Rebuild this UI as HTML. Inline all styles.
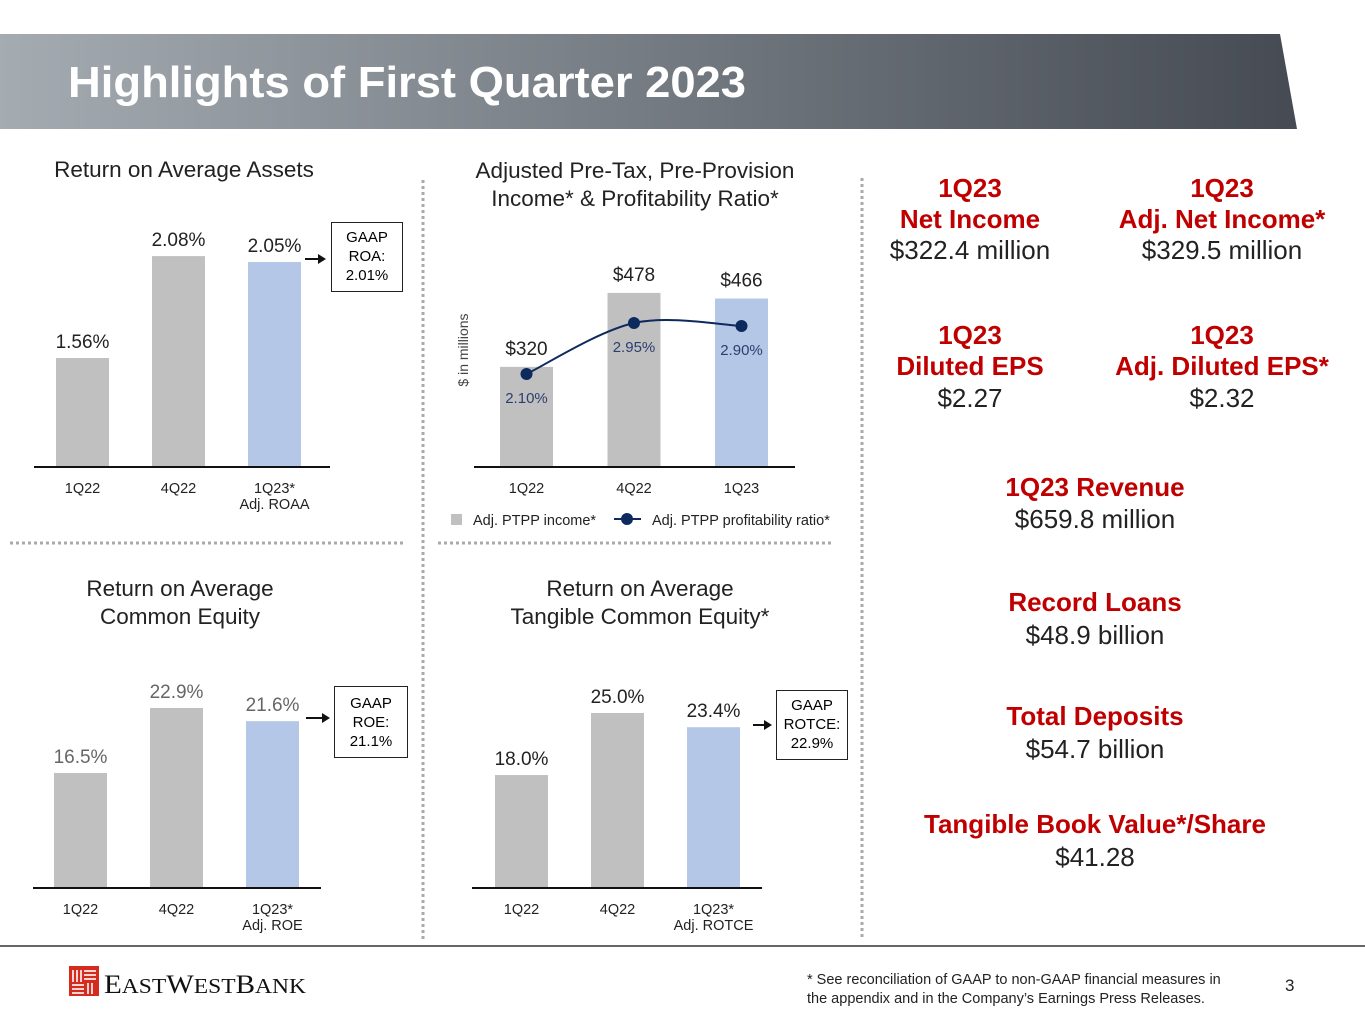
<!DOCTYPE html>
<html><head><meta charset="utf-8">
<style>
body{margin:0;width:1365px;height:1024px;position:relative;background:#fff;font-family:"Liberation Sans",Arial,sans-serif;overflow:hidden}
.abs{position:absolute}
.t{position:absolute;text-align:center;color:#222}
.red{color:#c00000;font-weight:bold}
.st{font-size:22.5px;line-height:28px}
.r{font-size:26px;line-height:31px}
.gb{position:absolute;border:1.5px solid #222;font-size:15px;text-align:center;line-height:19px;box-sizing:border-box;padding-top:5px}
</style></head><body>
<svg class="abs" style="left:0;top:0" width="1365" height="1024">
<defs><linearGradient id="hg" x1="0" x2="1"><stop offset="0" stop-color="#a4abb1"/><stop offset="1" stop-color="#464b53"/></linearGradient></defs>
<polygon points="0,34 1280,34 1297,129 0,129" fill="url(#hg)"/>
<text x="68" y="97" font-size="44" font-weight="bold" fill="#fff" font-family="Liberation Sans" textLength="678" lengthAdjust="spacingAndGlyphs">Highlights of First Quarter 2023</text>
<g stroke="#aaa" stroke-width="3" stroke-dasharray="3,3">
<line x1="423" y1="180" x2="423" y2="940"/><line x1="862" y1="178" x2="862" y2="940"/>
<line x1="10" y1="543" x2="405" y2="543"/><line x1="438" y1="543" x2="832" y2="543"/>
</g>
<line x1="0" y1="946" x2="1365" y2="946" stroke="#666" stroke-width="2"/>
<g id="charts"></g>
<g>
<rect x="69" y="966" width="30" height="30" fill="#d52b1e"/>
<g stroke="#fff" stroke-width="1.6"><line x1="73" y1="970" x2="73" y2="982"/><line x1="77" y1="970" x2="77" y2="982"/><line x1="81" y1="970" x2="81" y2="982"/><line x1="84" y1="971" x2="96" y2="971"/><line x1="84" y1="975" x2="96" y2="975"/><line x1="84" y1="979" x2="96" y2="979"/><line x1="72" y1="985" x2="84" y2="985"/><line x1="72" y1="989" x2="84" y2="989"/><line x1="72" y1="993" x2="84" y2="993"/><line x1="88" y1="983" x2="88" y2="994"/><line x1="92" y1="983" x2="92" y2="994"/></g>
<text x="104" y="993" font-family="Liberation Serif" font-size="26" fill="#111" textLength="202" lengthAdjust="spacingAndGlyphs">E<tspan font-size="21">AST</tspan>W<tspan font-size="21">EST</tspan>B<tspan font-size="21">ANK</tspan></text>
</g>
</svg>

<div class="t st" style="left:34px;top:156px;width:300px">Return on Average Assets</div>
<div class="t st" style="left:430px;top:157px;width:410px">Adjusted Pre-Tax, Pre-Provision<br>Income* &amp; Profitability Ratio*</div>
<div class="t st" style="left:20px;top:575px;width:320px">Return on Average<br>Common Equity</div>
<div class="t st" style="left:460px;top:575px;width:360px">Return on Average<br>Tangible Common Equity*</div>
<div class="t" style="top:340px;height:20px;font-size:14px;color:#444;transform:rotate(-90deg);white-space:nowrap;left:410px;width:110px">$ in millions</div>

<div class="gb" style="left:331px;top:222px;width:72px;height:70px">GAAP<br>ROA:<br>2.01%</div>
<div class="gb" style="left:334px;top:686px;width:74px;height:72px;padding-top:7px">GAAP<br>ROE:<br>21.1%</div>
<div class="gb" style="left:776px;top:690px;width:72px;height:70px">GAAP<br>ROTCE:<br>22.9%</div>

<div class="t red r" style="left:850px;top:173px;width:240px">1Q23<br>Net Income</div>
<div class="t r" style="left:850px;top:235px;width:240px">$322.4 million</div>
<div class="t red r" style="left:1090px;top:173px;width:264px">1Q23<br>Adj. Net Income*</div>
<div class="t r" style="left:1090px;top:235px;width:264px">$329.5 million</div>
<div class="t red r" style="left:850px;top:320px;width:240px">1Q23<br>Diluted EPS</div>
<div class="t r" style="left:850px;top:383px;width:240px">$2.27</div>
<div class="t red r" style="left:1090px;top:320px;width:264px">1Q23<br>Adj. Diluted EPS*</div>
<div class="t r" style="left:1090px;top:383px;width:264px">$2.32</div>
<div class="t red r" style="left:895px;top:472px;width:400px">1Q23 Revenue</div>
<div class="t r" style="left:895px;top:504px;width:400px">$659.8 million</div>
<div class="t red r" style="left:895px;top:587px;width:400px">Record Loans</div>
<div class="t r" style="left:895px;top:620px;width:400px">$48.9 billion</div>
<div class="t red r" style="left:895px;top:701px;width:400px">Total Deposits</div>
<div class="t r" style="left:895px;top:734px;width:400px">$54.7 billion</div>
<div class="t red r" style="left:880px;top:809px;width:430px">Tangible Book Value*/Share</div>
<div class="t r" style="left:880px;top:842px;width:430px">$41.28</div>

<div class="abs" style="left:807px;top:971px;font-size:14.5px;line-height:19px;color:#222">* See reconciliation of GAAP to non-GAAP financial measures in<br>the appendix and in the Company’s Earnings Press Releases.</div>
<div class="abs" style="left:1285px;top:976px;font-size:17px;color:#222">3</div>

<script>
const categories=["1Q22","4Q22","1Q23"];
const roaValues=[1.56,2.08,2.05];
const roaLabels=["1.56%","2.08%","2.05%"];
const roeValues=[16.5,22.9,21.6];
const roeLabels=["16.5%","22.9%","21.6%"];
const rotceValues=[18.0,25.0,23.4];
const rotceLabels=["18.0%","25.0%","23.4%"];
const ptppValues=[320,478,466];
const ptppLabels=["$320","$478","$466"];
const ratioValues=[2.10,2.95,2.90];
const ratioLabels=["2.10%","2.95%","2.90%"];

const NS="http://www.w3.org/2000/svg";
const root=document.getElementById('charts');
function mk(tag,attrs,parent){const e=document.createElementNS(NS,tag);for(const k in attrs)e.setAttribute(k,attrs[k]);(parent||root).appendChild(e);return e;}
function txt(x,y,s,size,fill,parent){const e=mk('text',{x:x,y:y,'font-size':size,fill:fill,'text-anchor':'middle','font-family':'Liberation Sans'},parent);e.textContent=s;return e;}
const colors=["#c0c0c0","#c0c0c0","#b4c7e7"];

function barChart(name,vals,labs,cfg){
  const g=mk('g',{});
  
  
  const yScale=v=>cfg.base-cfg.a*(v-cfg.min);
  vals.forEach((v,i)=>{
    const x=cfg.x0+i*cfg.step;
    const r=mk('rect',{x:x,y:yScale(v),width:53,height:cfg.base-yScale(v),fill:colors[i]},g);
    
    
    const l=txt(x+26.5,yScale(v)-cfg.lblOff,labs[i],19,cfg.lblColor,g);
    
    
    const c=txt(x+26.5,cfg.base+26,cfg.cats[i],14.5,'#222',g);
    
    
    if(i===2&&cfg.sub){const s=txt(x+26.5,cfg.base+42,cfg.sub,14.5,'#222',g);
      
      }
  });
  const ax=mk('line',{x1:cfg.ax1,x2:cfg.ax2,y1:cfg.base,y2:cfg.base,stroke:'#111','stroke-width':2},g);
  
  
  if(cfg.arrow){
    const a=mk('g',{},g);
    
    
    mk('line',{x1:cfg.arrow[0],x2:cfg.arrow[1]-6,y1:cfg.arrow[2],y2:cfg.arrow[2],stroke:'#111','stroke-width':2},a);
    mk('polygon',{points:`${cfg.arrow[1]},${cfg.arrow[2]} ${cfg.arrow[1]-8},${cfg.arrow[2]-5} ${cfg.arrow[1]-8},${cfg.arrow[2]+5}`,fill:'#111'},a);
  }
  return {g,yScale};
}
barChart('roaa-chart',roaValues,roaLabels,{base:467,a:196,min:1.004,x0:56,step:96,ax1:34,ax2:330,lblOff:10,lblColor:'#222',cats:["1Q22","4Q22","1Q23*"],sub:"Adj. ROAA",arrow:[305,326,259]});
barChart('roe-chart',roeValues,roeLabels,{base:888,a:10.16,min:5.18,x0:54,step:96,ax1:33,ax2:321,lblOff:10,lblColor:'#666',cats:["1Q22","4Q22","1Q23*"],sub:"Adj. ROE",arrow:[306,330,718]});
barChart('rotce-chart',rotceValues,rotceLabels,{base:888,a:8.86,min:5.25,x0:495,step:96,ax1:472,ax2:762,lblOff:10,lblColor:'#222',cats:["1Q22","4Q22","1Q23*"],sub:"Adj. ROTCE",arrow:[753,772,725]});
const p=barChart('ptpp-chart',ptppValues,ptppLabels,{base:467,a:0.468,min:106,x0:500,step:107.5,ax1:474,ax2:795,lblOff:12,lblColor:'#222',cats:categories});

const lg=mk('g',{});


const ry=v=>374-60*(v-2.10);
const pts=ratioValues.map((v,i)=>[526.5+i*107.5,ry(v)]);
let d=`M${pts[0][0]},${pts[0][1]}`;
for(let i=0;i<pts.length-1;i++){
  const p0=pts[Math.max(i-1,0)],p1=pts[i],p2=pts[i+1],p3=pts[Math.min(i+2,pts.length-1)];
  const c1=[p1[0]+(p2[0]-p0[0])/6,p1[1]+(p2[1]-p0[1])/6],c2=[p2[0]-(p3[0]-p1[0])/6,p2[1]-(p3[1]-p1[1])/6];
  d+=` C${c1[0]},${c1[1]} ${c2[0]},${c2[1]} ${p2[0]},${p2[1]}`;
}
mk('path',{d:d,fill:'none',stroke:'#0d2a5e','stroke-width':2},lg);
pts.forEach((pt,i)=>{
  const c=mk('circle',{cx:pt[0],cy:pt[1],r:6,fill:'#0d2a5e'},lg);
  
  
  const t=txt(pt[0],pt[1]+29,ratioLabels[i],15,'#2b3f6e',lg);
  
  
});
const leg=mk('g',{});


mk('rect',{x:451,y:514,width:11,height:11,fill:'#c0c0c0'},leg);
const t1=mk('text',{x:473,y:525,'font-size':14.5,fill:'#222','font-family':'Liberation Sans'},leg);t1.textContent='Adj. PTPP income*';
mk('line',{x1:614,x2:641,y1:519,y2:519,stroke:'#0d2a5e','stroke-width':2},leg);
mk('circle',{cx:627,cy:519,r:6,fill:'#0d2a5e'},leg);
const t2=mk('text',{x:652,y:525,'font-size':14.5,fill:'#222','font-family':'Liberation Sans'},leg);t2.textContent='Adj. PTPP profitability ratio*';
</script>
</body></html>
